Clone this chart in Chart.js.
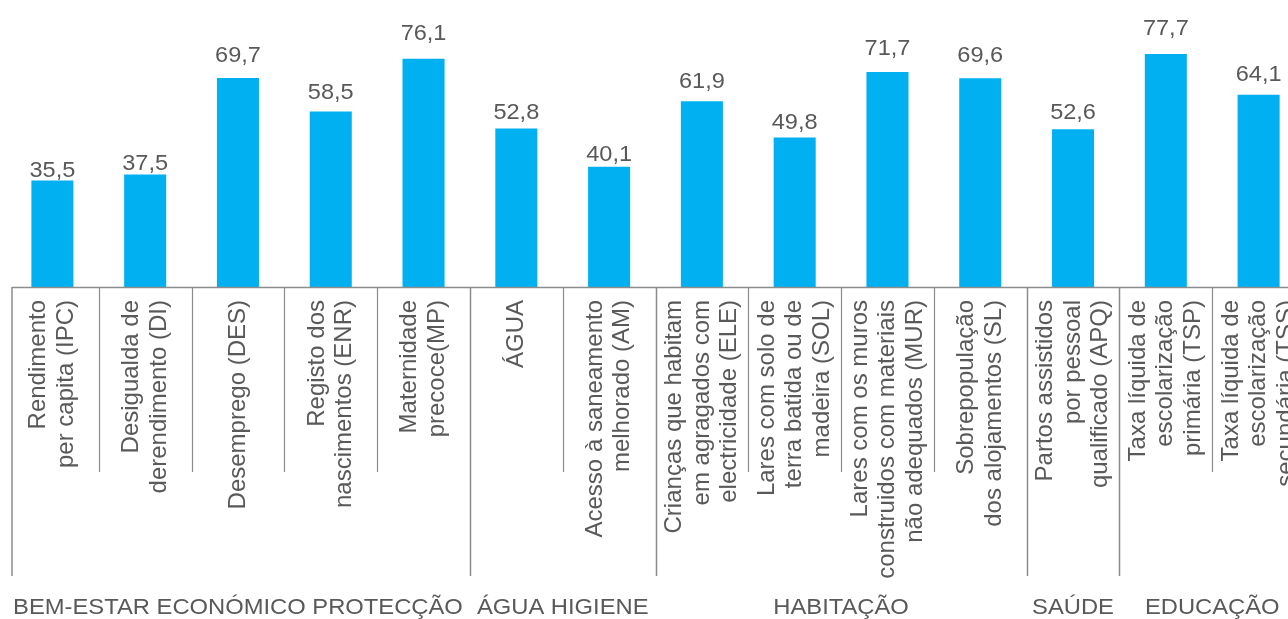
<!DOCTYPE html>
<html>
<head>
<meta charset="utf-8">
<script src="https://cdn.jsdelivr.net/npm/chart.js@4/dist/chart.umd.min.js"></script>
<style>
  html, body { margin: 0; padding: 0; background: #fff; overflow: hidden; }
  #wrap { position: relative; width: 1305px; height: 619px; }
</style>
</head>
<body>
<div id="wrap"><canvas id="chart"></canvas></div>
<script>
// category labels (multi-line, drawn rotated under the axis)
const categories = [
  ["Rendimento", "per capita (IPC)"],
  ["Desigualda de", "derendimento (DI)"],
  ["Desemprego (DES)"],
  ["Registo dos", "nascimentos (ENR)"],
  ["Maternidade", "precoce(MP)"],
  ["ÁGUA"],
  ["Acesso à saneamento", "melhorado (AM)"],
  ["Crianças que habitam", "em agragados com", "electricidade (ELE)"],
  ["Lares com solo de", "terra batida ou de", "madeira (SOL)"],
  ["Lares com os muros", "construidos com materiais", "não adequados (MUR)"],
  ["Sobrepopulação", "dos alojamentos (SL)"],
  ["Partos assistidos", "por pessoal", "qualificado (APQ)"],
  ["Taxa líquida de", "escolarização", "primária (TSP)"],
  ["Taxa líquida de", "escolarização", "secundária (TSS)"]
];
const values = [35.5, 37.5, 69.7, 58.5, 76.1, 52.8, 40.1, 61.9, 49.8, 71.7, 69.6, 52.6, 77.7, 64.1];
const groupNames = ["BEM-ESTAR ECONÓMICO PROTECÇÃO", "ÁGUA HIGIENE", "HABITAÇÃO", "SAÚDE", "EDUCAÇÃO"];
const groupSizes = [5, 2, 4, 1, 2];

const FONT = "'Liberation Sans', Arial, sans-serif";
const TEXT = "#595959";
const LINE = "#8c8c8c";
const BAR = "#00B0F0";

function fmt(v){ return v.toFixed(1).replace(".", ","); }

// horizontal text in the source is a bit wider than tall
function wideText(ctx, s, x, y, sx) {
  ctx.save();
  ctx.translate(x, y);
  ctx.scale(sx, 1);
  ctx.fillText(s, 0, 0);
  ctx.restore();
}

// draws axis line, separators, rotated category labels, group labels and value labels
const decor = {
  id: "decor",
  afterDatasetsDraw(chart) {
    const ctx = chart.ctx;
    const xs = chart.scales.x;
    const yl = chart.scales.yl; // labels sit on their own (slightly steeper) scale
    const y0 = chart.scales.y.getPixelForValue(0);
    const step = xs.getPixelForValue(1) - xs.getPixelForValue(0);
    const edge = i => xs.getPixelForValue(i) - step / 2;
    const leftX = xs.left + 6;

    ctx.save();
    ctx.strokeStyle = LINE;
    ctx.lineWidth = 1.5;
    // category axis line
    ctx.beginPath();
    ctx.moveTo(leftX, y0 + 0.5);
    ctx.lineTo(xs.right, y0 + 0.5);
    ctx.stroke();

    // separators: long at group boundaries, short between categories
    const groupStarts = [];
    let acc = 0;
    groupSizes.forEach(s => { groupStarts.push(acc); acc += s; });
    for (let i = 0; i <= categories.length; i++) {
      const isGroup = groupStarts.includes(i) || i === categories.length;
      const x = i === 0 ? leftX : Math.round(edge(i)) + 0.5;
      ctx.lineWidth = isGroup ? 1.5 : 1.2;
      ctx.beginPath();
      ctx.moveTo(x, y0);
      ctx.lineTo(x, isGroup ? y0 + 289 : y0 + 185);
      ctx.stroke();
    }

    // value labels
    const meta = chart.getDatasetMeta(0);
    ctx.fillStyle = TEXT;
    ctx.font = "22px " + FONT;
    ctx.textAlign = "center";
    ctx.textBaseline = "alphabetic";
    meta.data.forEach((bar, i) => {
      wideText(ctx, fmt(values[i]), bar.x, yl.getPixelForValue(values[i]), 1.07);
    });

    // rotated category labels
    ctx.font = "24px " + FONT;
    const lh = 27.5;
    categories.forEach((lines, i) => {
      const cx = xs.getPixelForValue(i);
      lines.forEach((ln, j) => {
        const off = (j - (lines.length - 1) / 2) * lh;
        ctx.save();
        ctx.translate(cx + off, y0 + 13);
        ctx.rotate(-Math.PI / 2);
        ctx.textAlign = "right";
        ctx.textBaseline = "middle";
        ctx.fillText(ln, 0, 0);
        ctx.restore();
      });
    });

    // group labels
    ctx.font = "22px " + FONT;
    ctx.textAlign = "center";
    ctx.textBaseline = "alphabetic";
    groupNames.forEach((g, k) => {
      const a = groupStarts[k];
      const b = a + groupSizes[k];
      const cx = (edge(a) + edge(b)) / 2;
      wideText(ctx, g, cx, y0 + 327, 1.08);
    });
    ctx.restore();
  }
};

new Chart(document.getElementById("chart"), {
  type: "bar",
  data: {
    labels: categories,
    datasets: [{
      data: values,
      backgroundColor: BAR,
      borderWidth: 0,
      categoryPercentage: 1,
      barPercentage: 0.453
    }]
  },
  options: {
    responsive: true,
    maintainAspectRatio: false,
    animation: false,
    layout: { padding: { left: 6, right: 0, top: 2, bottom: 332 } },
    plugins: { legend: { display: false }, tooltip: { enabled: false } },
    scales: {
      x: { display: false, offset: true, grid: { display: false } },
      y: { display: false, min: 0, max: 95 },
      yl: { display: false, min: 2.65, max: 87.5 }
    }
  },
  plugins: [decor]
});
</script>
</body>
</html>
